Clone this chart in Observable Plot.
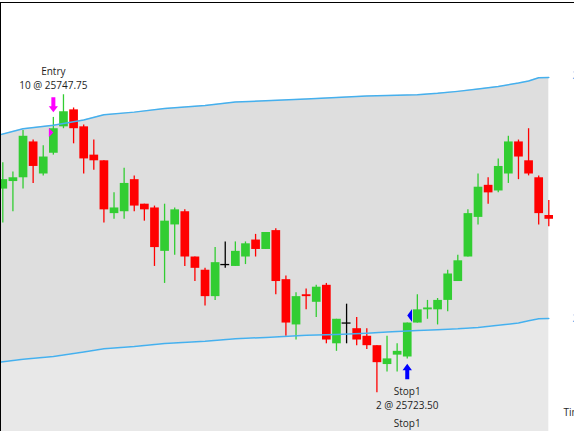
<!DOCTYPE html>
<html><head><meta charset="utf-8">
<script src="https://cdn.jsdelivr.net/npm/d3@7"></script>
<script src="https://cdn.jsdelivr.net/npm/@observablehq/plot@0.6"></script>
<style>
html,body{margin:0;padding:0;background:#fff;overflow:hidden;}
#frame{margin-top:2px;border-top:1px solid #000;border-left:1px solid #000;width:573px;height:428px;overflow:hidden;}
</style></head><body><div id="frame"></div>
<script>
// OHLC per candle (index 0..54)
const opens  = [25740.25,25741.25,25741.75,25746.50,25742.25,25745.00,25748.50,25750.75,25748.50,25744.75,
                25744.00,25737.00,25737.25,25741.50,25738.25,25737.75,25732.00,25735.50,25737.25,25731.25,
                25729.50,25726.00,25730.25,25730.00,25731.25,25733.50,25732.25,25734.75,25728.25,25722.25,
                25726.25,25725.25,25727.50,25719.75,25722.50,25721.75,25720.75,25719.50,25717.00,25718.25,
                25718.00,25722.50,25724.25,25724.25,25725.50,25728.00,25731.25,25736.50,25740.75,25740.00,
                25742.25,25746.50,25744.00,25741.75,25736.75];
const highs  = [25743.75,25742.50,25748.00,25746.75,25746.00,25749.75,25752.75,25751.00,25748.75,25746.75,
                25744.00,25739.75,25743.00,25742.00,25738.25,25738.00,25738.25,25737.75,25737.50,25731.25,
                25729.75,25732.50,25733.25,25733.25,25733.25,25734.25,25734.50,25735.00,25728.75,25726.50,
                25727.00,25727.50,25727.75,25723.00,25725.00,25723.25,25721.75,25719.50,25720.75,25719.75,
                25722.50,25726.25,25725.50,25725.75,25729.50,25731.50,25737.50,25742.25,25741.75,25744.25,
                25747.25,25746.75,25748.25,25742.00,25738.75];
const lows   = [25735.75,25737.25,25740.25,25741.00,25742.00,25744.75,25748.25,25746.25,25742.25,25742.75,
                25735.75,25736.25,25736.25,25737.25,25736.00,25730.00,25727.75,25731.50,25730.00,25728.00,
                25724.75,25725.50,25729.75,25730.00,25730.25,25731.25,25732.25,25726.25,25720.75,25720.25,
                25724.25,25723.25,25719.75,25718.75,25719.75,25719.50,25719.00,25713.25,25716.00,25716.00,
                25717.75,25722.50,25723.00,25722.25,25724.00,25728.00,25731.25,25735.50,25738.25,25739.75,
                25741.00,25741.50,25742.00,25735.50,25735.25];
const closes = [25741.50,25741.75,25747.25,25743.25,25744.50,25748.25,25750.50,25748.25,25744.25,25744.00,
                25737.50,25737.75,25741.00,25738.00,25737.50,25732.50,25736.00,25737.50,25731.25,25729.75,
                25726.00,25730.50,25730.25,25732.00,25733.00,25732.25,25734.50,25728.00,25722.50,25726.00,
                25726.00,25727.25,25720.25,25723.00,25722.50,25720.25,25719.50,25717.25,25717.75,25718.75,
                25722.50,25724.25,25724.50,25725.50,25729.00,25730.75,25737.00,25740.50,25739.75,25743.25,
                25746.50,25744.50,25742.25,25737.00,25736.25];

// Envelope band, read at these candle positions
const bandIdx   = [-0.3,2,5,8,10,13,16,20,23,26,30,33,36,38,41,43,45,47,49,51,52,53,54];
const upperBand = [25747.43,25748.25,25748.72,25749.40,25750.10,25750.45,25750.93,25751.32,25751.78,25751.95,
                   25752.20,25752.40,25752.58,25752.65,25752.76,25752.95,25753.20,25753.50,25753.85,25754.30,
                   25754.58,25755.00,25755.04];
const lowerBand = [25717.31,25717.70,25718.08,25718.65,25719.09,25719.38,25719.80,25720.10,25720.42,25720.60,
                   25720.87,25720.99,25721.15,25721.30,25721.52,25721.62,25721.74,25721.92,25722.20,25722.50,
                   25722.80,25723.08,25723.10];

// Trades
const entryBar = 5,  entryPrice = 25747.75, entryQty = 10, entryName = "Entry";
const exitBar  = 40, exitPrice  = 25723.50, exitQty  = 2,  exitName  = "Stop1";
const timeLabel = "Time";

const bars = opens.map((o, i) => ({i, o, h: highs[i], l: lows[i], c: closes[i]}));
const band = bandIdx.map((x, k) => ({x, u: upperBand[k], lo: lowerBand[k]}));
const GREEN = "#32CD32", RED = "#FF0000", BAND = "#45B0EE";
const col = d => d.c > d.o ? GREEN : d.c < d.o ? RED : "#000";

const arrowDown = {draw(ctx){ctx.moveTo(-2,-7.5);ctx.lineTo(2,-7.5);ctx.lineTo(2,1.5);ctx.lineTo(4.6,1.5);ctx.lineTo(0,7.5);ctx.lineTo(-4.6,1.5);ctx.lineTo(-2,1.5);ctx.closePath();}};
const arrowUp = {draw(ctx){ctx.moveTo(-2,7.8);ctx.lineTo(2,7.8);ctx.lineTo(2,-1.2);ctx.lineTo(4.7,-1.2);ctx.lineTo(0,-7.8);ctx.lineTo(-4.7,-1.2);ctx.lineTo(-2,-1.2);ctx.closePath();}};
const triRight = {draw(ctx){ctx.moveTo(-4.5,-4.6);ctx.lineTo(0,0);ctx.lineTo(-4.5,4.6);ctx.closePath();}};
const triLeft = {draw(ctx){ctx.moveTo(0,0);ctx.lineTo(4.8,-6.5);ctx.lineTo(4.8,6.5);ctx.closePath();}};

const entryBarD = bars[entryBar], exitBarD = bars[exitBar];
const font = {fontFamily: "Open Sans", fontSize: 10, fill: "#1e1e1e"};

const chart = Plot.plot({
  width: 573, height: 428,
  marginLeft: 0, marginTop: 0, marginBottom: 0, marginRight: 21,
  style: {background: "white", overflow: "hidden"},
  x: {type: "linear", domain: [0, 54], range: [1.3, 547.3], axis: null},
  y: {domain: [25723.5, 25747.75], range: [312, 129], axis: null},
  marks: [
    Plot.areaY(band, {x: "x", y1: "lo", y2: 25690, fill: "#E8E8E8", clip: true}),
    Plot.areaY(band, {x: "x", y1: "lo", y2: "u", fill: "#DEDEDE", clip: true}),
    Plot.ruleX(bars, {x: "i", y1: "l", y2: "h", stroke: col, strokeWidth: 1.3, clip: true}),
    Plot.ruleX(bars.filter(d => d.c !== d.o), {x: "i", y1: "o", y2: "c", stroke: col, strokeWidth: 8.7, clip: true}),
    Plot.ruleY(bars.filter(d => d.c === d.o), {y: "c", x1: d => d.i - 0.44, x2: d => d.i + 0.44, stroke: "#000", strokeWidth: 1.3, clip: true}),
    Plot.line(band, {x: "x", y: "u", stroke: BAND, strokeWidth: 1.5, clip: true}),
    Plot.line(band, {x: "x", y: "lo", stroke: BAND, strokeWidth: 1.5, clip: true}),
    // entry markers
    Plot.dot([entryBarD], {x: "i", y: "h", dy: -12.7, symbol: arrowDown, fill: "#FF00FF", stroke: "none"}),
    Plot.dot([{i: entryBar, p: entryPrice}], {x: "i", y: "p", symbol: triRight, fill: "#FF00FF", stroke: "none"}),
    Plot.text([entryBarD], {x: "i", y: "h", dy: -45.6, text: () => entryName, ...font}),
    Plot.text([entryBarD], {x: "i", y: "h", dy: -31.9, text: () => `${entryQty} @ ${entryPrice.toFixed(2)}`, ...font}),
    // exit markers
    Plot.dot([exitBarD], {x: "i", y: "l", dy: 12.6, symbol: arrowUp, fill: "#0000FF", stroke: "none"}),
    Plot.dot([{i: exitBar, p: exitPrice}], {x: "i", y: "p", symbol: triLeft, fill: "#0000FF", stroke: "none"}),
    Plot.text([exitBarD], {x: "i", y: "l", dy: 32.6, text: () => exitName, ...font}),
    Plot.text([exitBarD], {x: "i", y: "l", dy: 46.6, text: () => `${exitQty} @ ${exitPrice.toFixed(2)}`, ...font}),
    Plot.text([exitBarD], {x: "i", y: "l", dy: 64.6, text: () => exitName, ...font}),
    // right-side band value labels (cut by the window edge, as in the reference)
    Plot.text([band[band.length-1]], {y: "u", text: d => d.u.toFixed(2), frameAnchor: "right", dx: 19, textAnchor: "start", fontFamily: "Open Sans", fontSize: 10, fill: BAND, dy: -2}),
    Plot.text([band[band.length-1]], {y: "lo", text: d => d.lo.toFixed(2), frameAnchor: "right", dx: 19, textAnchor: "start", fontFamily: "Open Sans", fontSize: 10, fill: BAND}),
    Plot.text([timeLabel], {text: d => d, frameAnchor: "bottom-right", dx: 10, dy: -16, textAnchor: "start", fontFamily: "Open Sans", fontSize: 10, fill: "#1e1e1e"})
  ]
});
document.getElementById("frame").appendChild(chart);
</script></body></html>
